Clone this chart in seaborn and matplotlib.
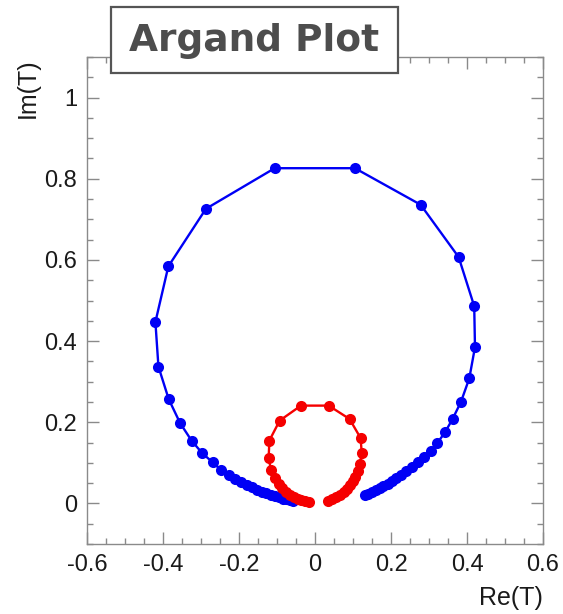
import numpy as np
import pandas as pd
import matplotlib
matplotlib.use("Agg")
import matplotlib.pyplot as plt
from matplotlib.patches import Rectangle
from matplotlib.ticker import MultipleLocator
import seaborn as sns

# blue resonance: points, ordered right tail -> top -> left tail
blue_re = [0.131, 0.140, 0.150, 0.160, 0.170, 0.180, 0.191, 0.202, 0.214, 0.227,
           0.240, 0.255, 0.270, 0.287, 0.304, 0.322, 0.342, 0.362, 0.384, 0.406,
           0.421, 0.419, 0.378, 0.278, 0.105, -0.106, -0.287, -0.386, -0.420, -0.412,
           -0.385, -0.355, -0.325, -0.297, -0.269, -0.248, -0.227, -0.210, -0.195, -0.180,
           -0.166, -0.153, -0.140, -0.128, -0.116, -0.105, -0.095, -0.085, -0.076, -0.067,
           -0.058]
blue_im = [0.020, 0.024, 0.028, 0.033, 0.038, 0.043, 0.049, 0.055, 0.062, 0.070,
           0.079, 0.090, 0.102, 0.114, 0.128, 0.149, 0.175, 0.208, 0.250, 0.308,
           0.385, 0.486, 0.607, 0.736, 0.826, 0.826, 0.726, 0.584, 0.447, 0.337,
           0.257, 0.198, 0.155, 0.124, 0.101, 0.083, 0.069, 0.060, 0.053, 0.046,
           0.040, 0.034, 0.029, 0.025, 0.021, 0.018, 0.015, 0.012, 0.010, 0.008,
           0.006]

# red resonance
red_re = [0.034, 0.045, 0.056, 0.066, 0.076, 0.085, 0.093, 0.100, 0.106, 0.112,
          0.118, 0.123, 0.120, 0.091, 0.036, -0.037, -0.093, -0.120, -0.122, -0.116,
          -0.106, -0.096, -0.086, -0.076, -0.066, -0.056, -0.046, -0.036, -0.026, -0.016]
red_im = [0.006, 0.010, 0.015, 0.021, 0.028, 0.036, 0.045, 0.055, 0.066, 0.080,
          0.097, 0.124, 0.161, 0.208, 0.241, 0.241, 0.204, 0.155, 0.112, 0.083,
          0.062, 0.048, 0.037, 0.028, 0.021, 0.015, 0.011, 0.008, 0.005, 0.004]

x_ticks = [-0.6, -0.4, -0.2, 0, 0.2, 0.4, 0.6]
x_ticklabels = ["-0.6", "-0.4", "-0.2", "0", "0.2", "0.4", "0.6"]
y_ticks = [0, 0.2, 0.4, 0.6, 0.8, 1]
y_ticklabels = ["0", "0.2", "0.4", "0.6", "0.8", "1"]

blue_df = pd.DataFrame({"re": blue_re, "im": blue_im})
red_df = pd.DataFrame({"re": red_re, "im": red_im})

sns.set_style("ticks")
plt.rcParams['font.family'] = ['Liberation Sans', 'DejaVu Sans']

fig = plt.figure(figsize=(5.63, 6.14), dpi=100)
ax = fig.add_axes([87 / 563, 70 / 614, 456 / 563, 487 / 614])

sns.lineplot(data=blue_df, x="re", y="im", sort=False, estimator=None,
             color="#0000f5", marker="o", markersize=8, markeredgewidth=0,
             linewidth=1.7, ax=ax)
sns.lineplot(data=red_df, x="re", y="im", sort=False, estimator=None,
             color="#f50000", marker="o", markersize=8, markeredgewidth=0,
             linewidth=1.7, ax=ax)

ax.set_xlim(-0.6, 0.6)
ax.set_ylim(-0.1, 1.1)
ax.set_xticks(x_ticks)
ax.set_xticklabels(x_ticklabels)
ax.set_yticks(y_ticks)
ax.set_yticklabels(y_ticklabels)
ax.xaxis.set_minor_locator(MultipleLocator(0.05))
ax.yaxis.set_minor_locator(MultipleLocator(0.05))

grey = "#8a8a8a"
for s in ax.spines.values():
    s.set_visible(True)
    s.set_color(grey)
    s.set_linewidth(1.0)
ax.tick_params(which="both", direction="in", top=True, right=True, color=grey,
               labelsize=17, labelcolor="#1a1a1a", pad=7)
ax.tick_params(which="major", length=8.6, width=1)
ax.tick_params(which="minor", length=4.3, width=1)

ax.set_xlabel("")
ax.set_ylabel("")
fig.text(543 / 563, 0.015, "Re(T)", ha="right", va="baseline", fontsize=18,
         color="#1a1a1a")
fig.text(28 / 563, 1 - 58 / 614, "Im(T)", ha="center", va="top", rotation=90,
         fontsize=18, color="#1a1a1a")

# title box
fig.patches.append(Rectangle((111 / 563, 1 - 73 / 614), 287 / 563, 66 / 614,
                             transform=fig.transFigure, facecolor="white",
                             edgecolor="#555555", linewidth=1.6, zorder=5))
fig.text(254 / 563, 1 - 41 / 614, "Argand Plot", ha="center", va="center",
         fontsize=27, fontweight="bold", color="#4d4d4d", family="DejaVu Sans",
         zorder=6)

fig.savefig("out.png", dpi=100)
